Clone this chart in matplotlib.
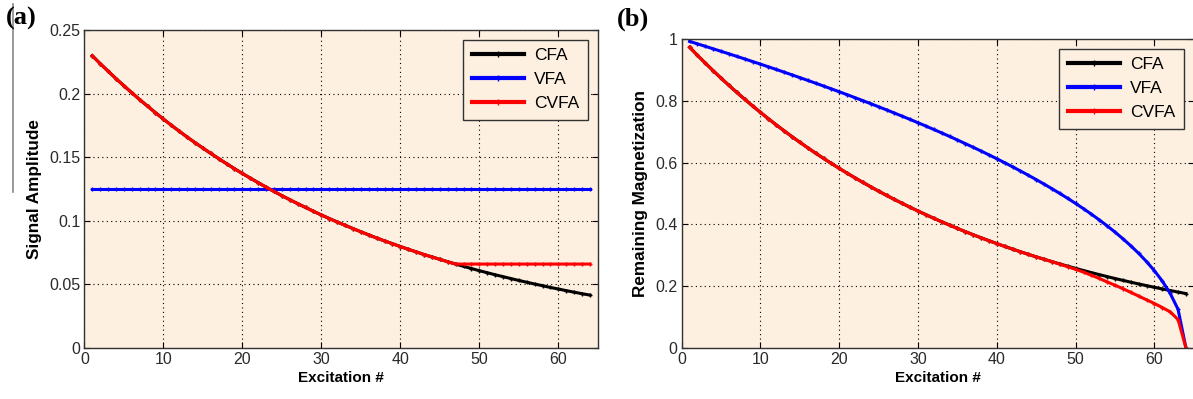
import matplotlib
matplotlib.use("Agg")
import matplotlib.pyplot as plt
from matplotlib.lines import Line2D

plt.rcParams["font.family"] = ["Liberation Sans", "DejaVu Sans"]

# excitation index 1..64
excitation = list(range(1, 65))

# (a) signal amplitude
cfa_signal = [
    0.2298, 0.2236, 0.2177, 0.2118, 0.2062, 0.2007, 0.1953, 0.1901, 0.1850, 0.1800,
    0.1752, 0.1705, 0.1659, 0.1615, 0.1572, 0.1530, 0.1489, 0.1449, 0.1410, 0.1372,
    0.1336, 0.1300, 0.1265, 0.1231, 0.1198, 0.1166, 0.1135, 0.1105, 0.1075, 0.1046,
    0.1018, 0.0991, 0.0965, 0.0939, 0.0914, 0.0889, 0.0865, 0.0842, 0.0820, 0.0798,
    0.0776, 0.0756, 0.0735, 0.0716, 0.0697, 0.0678, 0.0660, 0.0642, 0.0625, 0.0608,
    0.0592, 0.0576, 0.0561, 0.0546, 0.0531, 0.0517, 0.0503, 0.0490, 0.0476, 0.0464,
    0.0451, 0.0439, 0.0427, 0.0416,
]
vfa_signal = [0.125] * 64
cvfa_signal = [
    0.2298, 0.2236, 0.2177, 0.2118, 0.2062, 0.2007, 0.1953, 0.1901, 0.1850, 0.1800,
    0.1752, 0.1705, 0.1659, 0.1615, 0.1572, 0.1530, 0.1489, 0.1449, 0.1410, 0.1372,
    0.1336, 0.1300, 0.1265, 0.1231, 0.1198, 0.1166, 0.1135, 0.1105, 0.1075, 0.1046,
    0.1018, 0.0991, 0.0965, 0.0939, 0.0914, 0.0889, 0.0865, 0.0842, 0.0820, 0.0798,
    0.0776, 0.0756, 0.0735, 0.0716, 0.0697, 0.0678, 0.0660, 0.0660, 0.0660, 0.0660,
    0.0660, 0.0660, 0.0660, 0.0660, 0.0660, 0.0660, 0.0660, 0.0660, 0.0660, 0.0660,
    0.0660, 0.0660, 0.0660, 0.0660,
]

# (b) remaining magnetization
cfa_mag = [
    0.9732, 0.9472, 0.9219, 0.8972, 0.8732, 0.8498, 0.8270, 0.8049, 0.7834, 0.7624,
    0.7420, 0.7221, 0.7028, 0.6840, 0.6657, 0.6479, 0.6305, 0.6137, 0.5972, 0.5813,
    0.5657, 0.5506, 0.5358, 0.5215, 0.5075, 0.4939, 0.4807, 0.4679, 0.4553, 0.4432,
    0.4313, 0.4197, 0.4085, 0.3976, 0.3869, 0.3766, 0.3665, 0.3567, 0.3472, 0.3379,
    0.3288, 0.3200, 0.3115, 0.3031, 0.2950, 0.2871, 0.2794, 0.2720, 0.2647, 0.2576,
    0.2507, 0.2440, 0.2375, 0.2311, 0.2249, 0.2189, 0.2130, 0.2073, 0.2018, 0.1964,
    0.1911, 0.1860, 0.1810, 0.1762,
]
vfa_mag = [
    0.9922, 0.9843, 0.9763, 0.9682, 0.9601, 0.9520, 0.9437, 0.9354, 0.9270, 0.9186,
    0.9100, 0.9014, 0.8927, 0.8839, 0.8750, 0.8660, 0.8570, 0.8478, 0.8385, 0.8292,
    0.8197, 0.8101, 0.8004, 0.7906, 0.7806, 0.7706, 0.7603, 0.7500, 0.7395, 0.7289,
    0.7181, 0.7071, 0.6960, 0.6847, 0.6731, 0.6614, 0.6495, 0.6374, 0.6250, 0.6124,
    0.5995, 0.5863, 0.5728, 0.5590, 0.5449, 0.5303, 0.5154, 0.5000, 0.4841, 0.4677,
    0.4507, 0.4330, 0.4146, 0.3953, 0.3750, 0.3536, 0.3307, 0.3062, 0.2795, 0.2500,
    0.2165, 0.1768, 0.1250, 0.0,
]
cvfa_mag = [
    0.9732, 0.9472, 0.9219, 0.8972, 0.8732, 0.8498, 0.8270, 0.8049, 0.7834, 0.7624,
    0.7420, 0.7221, 0.7028, 0.6840, 0.6657, 0.6479, 0.6305, 0.6137, 0.5972, 0.5813,
    0.5657, 0.5506, 0.5358, 0.5215, 0.5075, 0.4939, 0.4807, 0.4679, 0.4553, 0.4432,
    0.4313, 0.4197, 0.4085, 0.3976, 0.3869, 0.3766, 0.3665, 0.3567, 0.3472, 0.3379,
    0.3288, 0.3200, 0.3115, 0.3031, 0.2950, 0.2871, 0.2794, 0.2712, 0.2630, 0.2545,
    0.2455, 0.2355, 0.2250, 0.2140, 0.2030, 0.1920, 0.1800, 0.1680, 0.1560, 0.1440,
    0.1310, 0.1170, 0.0920, 0.0,
]

labels = ["CFA", "VFA", "CVFA"]
colors = ["black", "#0000ff", "#ff0000"]
bg = "#fdf0e0"

fig = plt.figure(figsize=(11.93, 3.99), dpi=100)
ax1 = fig.add_axes([0.0707, 0.1278, 0.4304, 0.797])
ax2 = fig.add_axes([0.5714, 0.1278, 0.4293, 0.7745])


def style(ax, ylim, yticks, yticklabels, ylabel):
    ax.set_facecolor(bg)
    ax.set_xlim(0, 65)
    ax.set_ylim(*ylim)
    ax.set_xticks([0, 10, 20, 30, 40, 50, 60])
    ax.set_yticks(yticks)
    ax.set_yticklabels(yticklabels)
    ax.grid(True, linestyle=(0, (1, 3)), color="black", linewidth=0.8)
    ax.tick_params(direction="in", top=True, right=True, length=4,
                   labelsize=11.5, labelcolor="#2a2a2a", width=0.8, pad=3)
    for s in ax.spines.values():
        s.set_color("#333333")
        s.set_linewidth(1.0)
    ax.set_xlabel("Excitation #", fontsize=11, fontweight="bold", labelpad=3)
    ax.set_ylabel(ylabel, fontsize=12.3, fontweight="bold", labelpad=5)
    handles = [Line2D([0], [0], color=c, lw=3, marker="+", markersize=4) for c in colors]
    leg = ax.legend(handles, labels, loc="upper right", fontsize=12.5,
                    fancybox=False, framealpha=1, facecolor=bg,
                    edgecolor="#333333", handlelength=3.0, borderpad=0.5,
                    labelspacing=0.5, handletextpad=0.6, borderaxespad=0.55)
    leg.get_frame().set_linewidth(1.0)


# panel (a)
ax1.plot(excitation, cfa_signal, color=colors[0], lw=2.2, marker="+", markersize=3)
ax1.plot(excitation, vfa_signal, color=colors[1], lw=2.2, marker="+", markersize=3)
ax1.plot(excitation, cvfa_signal, color=colors[2], lw=2.2, marker="+", markersize=3)
style(ax1, (0, 0.25), [0, 0.05, 0.1, 0.15, 0.2, 0.25],
      ["0", "0.05", "0.1", "0.15", "0.2", "0.25"], "Signal Amplitude")

# panel (b)
ax2.plot(excitation, cfa_mag, color=colors[0], lw=2.2, marker="+", markersize=3)
ax2.plot(excitation, vfa_mag, color=colors[1], lw=2.2, marker="+", markersize=3)
ax2.plot(excitation, cvfa_mag, color=colors[2], lw=2.2, marker="+", markersize=3)
style(ax2, (0, 1), [0, 0.2, 0.4, 0.6, 0.8, 1.0],
      ["0", "0.2", "0.4", "0.6", "0.8", "1"], "Remaining Magnetization")

# panel letters
fig.text(0.005, 0.955, "(a)", fontsize=19, fontweight="bold", family="Liberation Serif", va="center")
fig.text(0.517, 0.952, "(b)", fontsize=19, fontweight="bold", family="Liberation Serif", va="center")
fig.add_artist(Line2D([0.0105, 0.0105], [0.52, 0.99], color="#888888", lw=1.2))

fig.savefig("out.png", dpi=100)
